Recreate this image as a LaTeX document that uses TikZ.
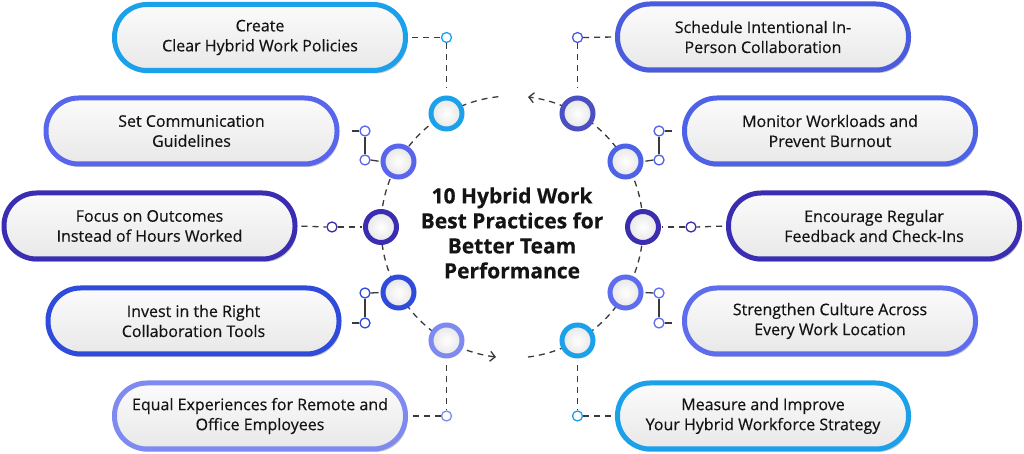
\documentclass[tikz,border=0pt]{standalone}
\usepackage{fontspec}
\setmainfont{Open Sans}[FakeBold=0.4]
\usetikzlibrary{arrows.meta,shadows}
\definecolor{cya}{HTML}{1BA0EA}
\definecolor{cbA}{HTML}{5865EC}
\definecolor{cpu}{HTML}{3B2DB2}
\definecolor{cbB}{HTML}{2F4BDB}
\definecolor{cpe}{HTML}{7E8AF0}
\definecolor{cbC}{HTML}{4A5BDD}
\definecolor{cbD}{HTML}{4D62E6}
\definecolor{cbE}{HTML}{5E6CEE}
\definecolor{cslate}{HTML}{4A50C2}
\definecolor{lineg}{HTML}{3A3A3A}
\definecolor{txt}{HTML}{141414}
\tikzset{
  pill/.style={draw=#1, line width=5pt, rounded corners=32.5pt,
    minimum width=291pt, minimum height=66pt, inner sep=0pt,
    top color=white!97!gray, bottom color=black!9,
    drop shadow={shadow xshift=2pt, shadow yshift=-3pt, opacity=0.22, fill=black},
    align=center, text=txt, font=\fontsize{16}{20}\selectfont},
  ring/.style={circle, draw=#1, line width=5pt, minimum size=31pt, inner sep=0pt,
    inner color=white, outer color=black!10,
    drop shadow={shadow xshift=1pt, shadow yshift=-1.5pt, opacity=0.2, fill=black}},
  dot/.style={circle, draw=#1, line width=1.3pt, fill=white, minimum size=10pt, inner sep=0pt},
  dashline/.style={draw=lineg, line width=1.3pt, dash pattern=on 6pt off 5pt},
  stub/.style={draw=lineg, line width=1.3pt},
  cyc/.style={dashline, -{Straight Barb[length=5pt,width=10pt,line width=1.3pt]}}
}
\begin{document}
\begin{tikzpicture}[x=1pt,y=1pt]
\useasboundingbox (0,0) rectangle (1024,454);
\coordinate (O) at (512,227);
% cycle arcs
\draw[cyc] (O) ++(96:131) arc[start angle=96,end angle=263,radius=131];
\draw[cyc] (O) ++(277:131) arc[start angle=277,end angle=443,radius=131];

% small dots
\node[dot=cya] (s1) at (446.5,416.5) {};
\node[dot=cbA] (s2a) at (365,323) {};
\node[dot=cbA] (s2b) at (365,294) {};
\node[dot=cpu] (s3) at (332,227) {};
\node[dot=cbB] (s4a) at (365,161) {};
\node[dot=cbB] (s4b) at (365,131) {};
\node[dot=cpe] (s5) at (446.5,38) {};
\node[dot=cbC] (s6) at (577.5,416.5) {};
\node[dot=cbD] (s7a) at (659,323) {};
\node[dot=cbD] (s7b) at (659,294) {};
\node[dot=cpu] (s8) at (691,227) {};
\node[dot=cbE] (s9a) at (659,161) {};
\node[dot=cbE] (s9b) at (659,131) {};
\node[dot=cya] (s10) at (577.5,38) {};

\coordinate (t2) at (352,323);
\coordinate (t4) at (352,131);
\coordinate (t7) at (672,323);
\coordinate (t9) at (672,131);

% pills
\node[pill=cya] (b1) at (260,416.5) {Create\\Clear Hybrid Work Policies};
\node[pill=cbA] (b2) at (191.5,323) {Set Communication\\Guidelines};
\node[pill=cpu] (b3) at (149.5,228) {Focus on Outcomes\\Instead of Hours Worked};
\node[pill=cbB] (b4) at (193.5,133) {Invest in the Right\\Collaboration Tools};
\node[pill=cpe] (b5) at (260,38) {Equal Experiences for Remote and\\Office Employees};
\node[pill=cbC] (b6) at (763,417) {Schedule Intentional In-\\Person Collaboration};
\node[pill=cbD] (b7) at (830,323) {Monitor Workloads and\\Prevent Burnout};
\node[pill=cpu] (b8) at (874,228) {Encourage Regular\\Feedback and Check-Ins};
\node[pill=cbE] (b9) at (830,133) {Strengthen Culture Across\\Every Work Location};
\node[pill=cya] (b10) at (763,38) {Measure and Improve\\Your Hybrid Workforce Strategy};

% rings
\node[ring=cya] (c120) at (446.5,340.5) {};
\node[ring=cbA] (c150) at (398.5,292.5) {};
\node[ring=cpu] (c180) at (381,227) {};
\node[ring=cbB] (c210) at (398.5,161.5) {};
\node[ring=cpe] (c240) at (446.5,113.5) {};
\node[ring=cslate] (c60) at (577.5,340.5) {};
\node[ring=cbD] (c30) at (625.5,292.5) {};
\node[ring=cpu] (c0) at (643,227) {};
\node[ring=cbE] (c330) at (625.5,161.5) {};
\node[ring=cya] (c300) at (577.5,113.5) {};

% connectors left
\draw[dashline, shorten <=4pt] (b1.east) -- (s1.west);
\draw[dashline, shorten >=7pt] (s1.south) -- (c120.north);
\draw[stub] (t2) -- (s2a.west);
\draw[stub] (s2a.south) -- (s2b.north);
\draw[stub, shorten >=2pt] (s2b.east) -- (c150.west);
\draw[dashline, shorten <=4pt] (b3.east) -- (s3.west);
\draw[dashline, shorten >=1pt] (s3.east) -- (c180.west);
\draw[stub, shorten >=2pt] (s4a.east) -- (c210.west);
\draw[stub] (s4a.south) -- (s4b.north);
\draw[stub] (s4b.west) -- (t4);
\draw[dashline, shorten <=7pt] (c240.south) -- (s5.north);
\draw[dashline, shorten >=4pt] (s5.west) -- (b5.east);
% connectors right
\draw[dashline, shorten <=4pt] (b6.west) -- (s6.east);
\draw[dashline, shorten >=7pt] (s6.south) -- (c60.north);
\draw[stub] (t7) -- (s7a.east);
\draw[stub] (s7a.south) -- (s7b.north);
\draw[stub, shorten >=2pt] (s7b.west) -- (c30.east);
\draw[dashline, shorten <=4pt] (b8.west) -- (s8.east);
\draw[dashline, shorten >=1pt] (s8.west) -- (c0.east);
\draw[stub, shorten >=2pt] (s9a.west) -- (c330.east);
\draw[stub] (s9a.south) -- (s9b.north);
\draw[stub] (s9b.east) -- (t9);
\draw[dashline, shorten <=7pt] (c300.south) -- (s10.north);
\draw[dashline, shorten >=4pt] (s10.east) -- (b10.west);

% title
\node[align=center, text=txt, font=\bfseries\fontsize{21}{25}\selectfont] (title) at (512,221)
  {10 Hybrid Work\\Best Practices for\\Better Team\\Performance};
\end{tikzpicture}
\end{document}
